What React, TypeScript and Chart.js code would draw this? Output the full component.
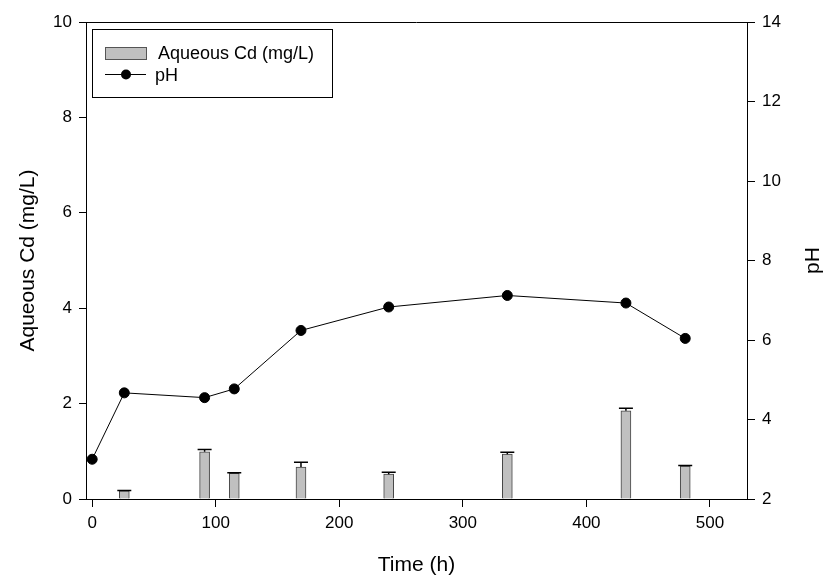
import React, { useEffect, useRef } from "react";
import { Chart, registerables } from "chart.js";

Chart.register(...registerables);

// ---- data ----
const pHTimes = [0, 26, 91, 115, 169, 240, 336, 432, 480];
const pHValues = [3.0, 4.67, 4.55, 4.77, 6.24, 6.83, 7.12, 6.93, 6.04];
const cdTimes = [26, 91, 115, 169, 240, 336, 432, 480];
const cdValues = [0.17, 0.99, 0.54, 0.67, 0.52, 0.94, 1.85, 0.69];
const cdErrors = [0.01, 0.05, 0.01, 0.1, 0.04, 0.04, 0.05, 0.01];
const xTickValues = [0, 100, 200, 300, 400, 500];
const cdLabel = "Aqueous Cd (mg/L)";
const pHLabel = "pH";
const xTitle = "Time (h)";

const FONT = "'Liberation Sans', Arial, sans-serif";

const errorBarPlugin = {
  id: "errorBars",
  afterDatasetsDraw(chart: any) {
    const ctx = chart.ctx;
    const meta = chart.getDatasetMeta(0);
    const yScale = chart.scales.y;
    ctx.save();
    ctx.strokeStyle = "#000";
    ctx.lineWidth = 1.5;
    meta.data.forEach((bar: any, i: number) => {
      const x = bar.x;
      const yTop = yScale.getPixelForValue(cdValues[i]);
      const yErr = yScale.getPixelForValue(cdValues[i] + cdErrors[i]);
      ctx.beginPath();
      ctx.moveTo(x, yTop);
      ctx.lineTo(x, yErr);
      ctx.moveTo(x - 7, yErr);
      ctx.lineTo(x + 7, yErr);
      ctx.stroke();
    });
    ctx.restore();
  },
};

const framePlugin = {
  id: "frameAndLegend",
  afterDraw(chart: any) {
    const ctx = chart.ctx;
    const ca = chart.chartArea;
    ctx.save();
    // top frame line
    ctx.strokeStyle = "#000";
    ctx.lineWidth = 1;
    ctx.beginPath();
    ctx.moveTo(ca.left, ca.top + 0.5);
    ctx.lineTo(ca.right, ca.top + 0.5);
    ctx.stroke();

    // right axis title, rotated like the left one
    ctx.fillStyle = "#000";
    ctx.font = `21px ${FONT}`;
    ctx.textAlign = "center";
    ctx.textBaseline = "middle";
    ctx.translate(813, (ca.top + ca.bottom) / 2);
    ctx.rotate(-Math.PI / 2);
    ctx.fillText(pHLabel, 0, 0);
    ctx.setTransform(1, 0, 0, 1, 0, 0);

    // legend box
    const lx = ca.left + 6;
    const ly = ca.top + 7;
    ctx.fillStyle = "#fff";
    ctx.fillRect(lx, ly, 240, 68);
    ctx.strokeStyle = "#000";
    ctx.strokeRect(lx + 0.5, ly + 0.5, 240, 68);

    // bar swatch
    ctx.fillStyle = "#c0c0c0";
    ctx.fillRect(lx + 13, ly + 18, 41, 12);
    ctx.strokeStyle = "#555";
    ctx.strokeRect(lx + 13.5, ly + 18.5, 41, 12);
    ctx.fillStyle = "#000";
    ctx.font = `18px ${FONT}`;
    ctx.textAlign = "left";
    ctx.textBaseline = "middle";
    ctx.fillText(cdLabel, lx + 66, ly + 25);

    // line swatch
    ctx.strokeStyle = "#000";
    ctx.lineWidth = 1;
    ctx.beginPath();
    ctx.moveTo(lx + 13, ly + 45.5);
    ctx.lineTo(lx + 54, ly + 45.5);
    ctx.stroke();
    ctx.beginPath();
    ctx.arc(lx + 34, ly + 45.5, 5, 0, Math.PI * 2);
    ctx.fill();
    ctx.fillText(pHLabel, lx + 63, ly + 47);
    ctx.restore();
  },
};

export default function App() {
  const ref = useRef<HTMLCanvasElement | null>(null);

  useEffect(() => {
    document.body.style.margin = "0";
    const canvas = ref.current;
    if (!canvas) return;
    const tickFont = { family: FONT, size: 17 };
    const chart = new Chart(canvas, {
      data: {
        datasets: [
          {
            type: "bar",
            label: cdLabel,
            data: cdTimes.map((t, i) => ({ x: t, y: cdValues[i] })),
            backgroundColor: "#c0c0c0",
            borderColor: "#444",
            borderWidth: 1,
            barThickness: 10,
            yAxisID: "y",
            xAxisID: "x",
            order: 2,
          },
          {
            type: "line",
            label: pHLabel,
            data: pHTimes.map((t, i) => ({ x: t, y: pHValues[i] })),
            borderColor: "#000",
            backgroundColor: "#000",
            borderWidth: 1,
            pointRadius: 5,
            pointBackgroundColor: "#000",
            pointBorderColor: "#000",
            tension: 0,
            yAxisID: "y2",
            xAxisID: "x",
            order: 1,
          },
        ],
      } as any,
      options: {
        responsive: false,
        animation: false,
        layout: { padding: { top: 22, left: 0, right: 0, bottom: 0 } },
        plugins: {
          legend: { display: false },
          tooltip: { enabled: false },
        },
        scales: {
          x: {
            type: "linear",
            position: "bottom",
            min: -5,
            max: 530,
            offset: false,
            afterBuildTicks: (scale: any) => {
              scale.ticks = xTickValues.map((v) => ({ value: v }));
            },
            afterFit: (scale: any) => {
              scale.height = 79;
            },
            grid: {
              display: true,
              offset: false,
              drawOnChartArea: false,
              drawTicks: true,
              tickLength: 8,
              color: "#000",
            },
            border: { display: true, color: "#000", width: 1 },
            ticks: { font: tickFont, color: "#000", padding: 6, maxRotation: 0 },
            title: {
              display: true,
              text: xTitle,
              font: { family: FONT, size: 21 },
              color: "#000",
              padding: { top: 0, bottom: 0 },
            },
          },
          y: {
            type: "linear",
            position: "left",
            min: 0,
            max: 10,
            ticks: { stepSize: 2, font: tickFont, color: "#000", padding: 7 },
            afterFit: (scale: any) => {
              scale.width = 86;
            },
            grid: {
              display: true,
              drawOnChartArea: false,
              drawTicks: true,
              tickLength: 7,
              color: "#000",
            },
            border: { display: true, color: "#000", width: 1 },
            title: {
              display: true,
              text: cdLabel,
              font: { family: FONT, size: 21 },
              color: "#000",
              padding: { top: 16, bottom: 0 },
            },
          },
          y2: {
            type: "linear",
            position: "right",
            min: 2,
            max: 14,
            ticks: { stepSize: 2, font: tickFont, color: "#000", padding: 7 },
            afterFit: (scale: any) => {
              scale.width = 78;
            },
            grid: {
              display: true,
              drawOnChartArea: false,
              drawTicks: true,
              tickLength: 8,
              color: "#000",
            },
            border: { display: true, color: "#000", width: 1 },
          },
        },
      } as any,
      plugins: [errorBarPlugin, framePlugin],
    });
    return () => chart.destroy();
  }, []);

  return (
    <div style={{ width: 825, height: 578, background: "#fff" }}>
      <canvas ref={ref} width={825} height={578} style={{ display: "block" }} />
    </div>
  );
}
